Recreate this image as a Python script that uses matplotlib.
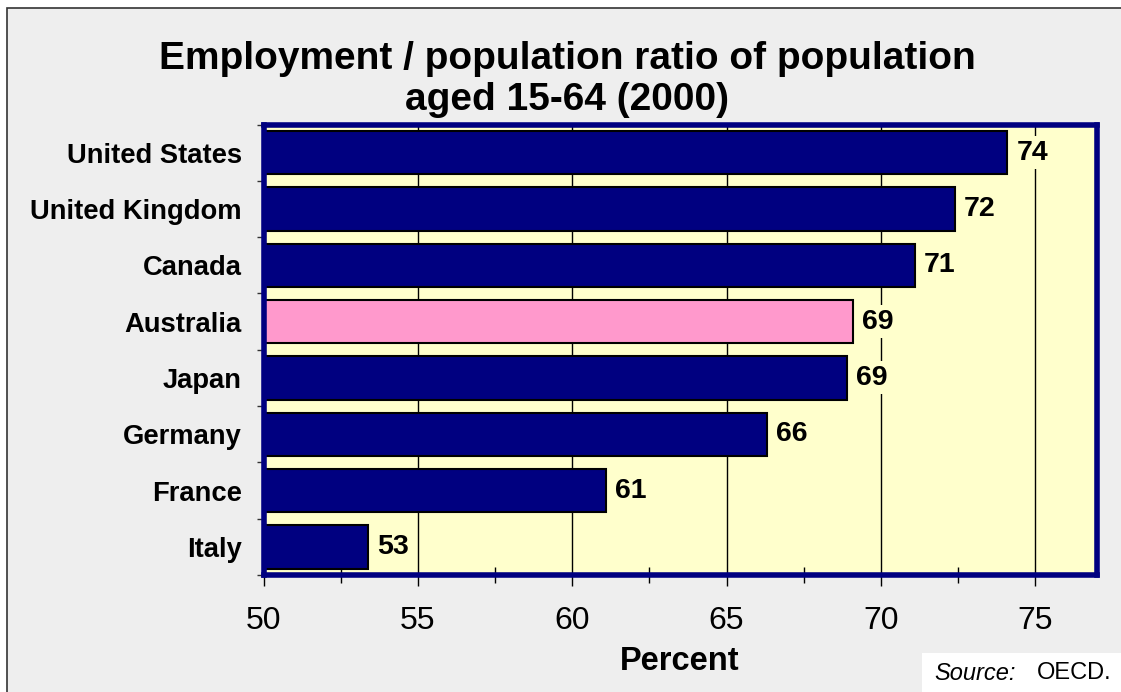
import numpy as np
import matplotlib
matplotlib.use("Agg")
import matplotlib.pyplot as plt
from matplotlib.patches import Rectangle
from matplotlib.ticker import MultipleLocator

plt.rcParams['font.family'] = ['Liberation Sans', 'DejaVu Sans']

# employment / population ratio, ages 15-64, year 2000 (OECD)
countries = ["United States", "United Kingdom", "Canada", "Australia",
             "Japan", "Germany", "France", "Italy"]
ratios = [74.1, 72.4, 71.1, 69.1, 68.9, 66.3, 61.1, 53.4]
highlight = "Australia"

NAVY = "#000080"
PINK = "#FF99CC"
CREAM = "#FFFFCC"
SLIDE = "#EEEEEE"

fig = plt.figure(figsize=(11.21, 6.92), dpi=100, facecolor="white")
W, H = 1121, 692

# slide background with a thin frame on top/left
fig.add_artist(Rectangle((7 / W, -0.05), 1.1, 1 - 8 / H + 0.05,
                         transform=fig.transFigure, facecolor=SLIDE,
                         edgecolor="#333333", lw=1.2, zorder=0))

ax = fig.add_axes([263.5 / W, 1 - 575 / H, (1097 - 263.5) / W, (575 - 124.5) / H])
ax.set_facecolor(CREAM)

y = np.arange(len(countries))
colors = [PINK if c == highlight else NAVY for c in countries]
ax.barh(y, ratios, height=0.77, color=colors, edgecolor="black", lw=1.5, zorder=3)

for yi, v in zip(y, ratios):
    ax.annotate(f"{v:.0f}", (v, yi), xytext=(6.5, 0), textcoords="offset points",
                ha="left", va="center", fontsize=20.5, fontweight="bold", zorder=5,
                bbox=dict(boxstyle="square,pad=0.12", fc=CREAM, ec="none"))

ax.set_xlim(50, 77)
ax.set_ylim(len(countries) - 0.5, -0.5)
ax.xaxis.set_major_locator(MultipleLocator(5))
ax.xaxis.set_minor_locator(MultipleLocator(2.5))
ax.grid(axis="x", which="major", color="black", lw=1, zorder=1)
ax.set_axisbelow(True)

ax.set_yticks(y, countries)
ax.set_yticks(np.arange(-0.5, len(countries)), minor=True)
ax.tick_params(axis="y", which="major", length=0, pad=15.5, labelsize=19.7)
for lab in ax.get_yticklabels():
    lab.set_fontweight("bold")
ax.tick_params(axis="y", which="minor", length=5, width=1, color="#333333")
ax.tick_params(axis="x", which="major", direction="out", length=8, width=1,
               pad=14.5, labelsize=23)
ax.tick_params(axis="x", which="minor", direction="inout", length=12, width=1)

for s in ax.spines.values():
    s.set_color(NAVY)
    s.set_linewidth(4)
    s.set_zorder(4)

fig.text(567 / W, 0.885, "Employment / population ratio of population\naged 15-64 (2000)",
         ha="center", va="center", fontsize=28, fontweight="bold", linespacing=1.17)
fig.text(680 / W, 1 - 661 / H, "Percent", ha="center", va="center",
         fontsize=23.5, fontweight="bold")

# source note in a white box, bottom right
fig.add_artist(Rectangle((922 / W, 0), 1 - 922 / W, 39 / H,
                         transform=fig.transFigure, facecolor="white",
                         edgecolor="none", zorder=1))
fig.text(934 / W, 1 - 673 / H, "Source:", ha="left", va="center",
         fontsize=17, style="italic")
fig.text(1037 / W, 1 - 673 / H, "OECD.", ha="left", va="center", fontsize=17)

fig.savefig("out.png", dpi=100, facecolor=fig.get_facecolor())
